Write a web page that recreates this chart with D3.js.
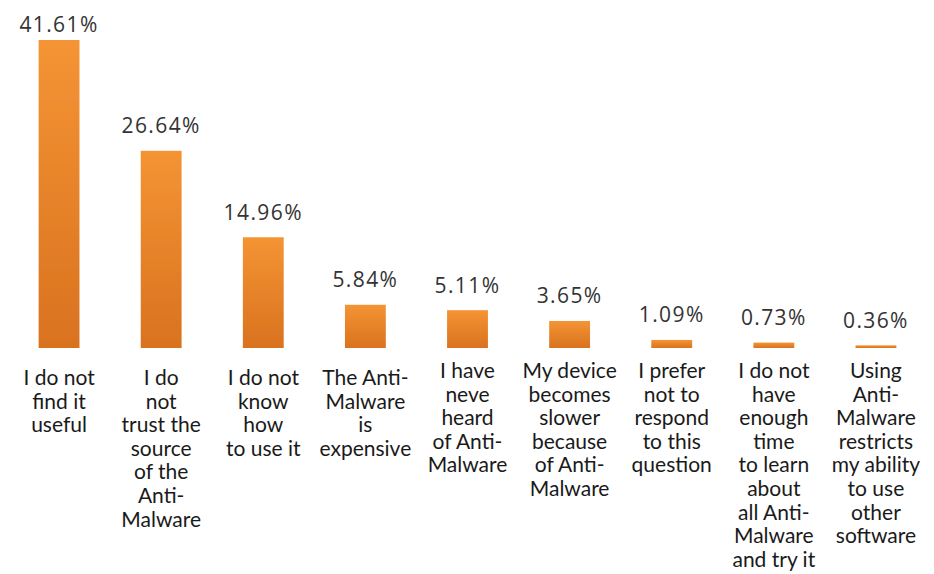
<!DOCTYPE html>
<html>
<head>
<meta charset="utf-8">
<script src="https://cdn.jsdelivr.net/npm/d3@7"></script>
<style>
  html, body { margin: 0; padding: 0; background: #ffffff; }
  svg { display: block; }
</style>
</head>
<body>
<svg id="chart" width="934" height="574"></svg>
<script>
// Reasons given for not using Anti-Malware (share of respondents, %)
const categories = [
  "I do not find it useful",
  "I do not trust the source of the Anti-Malware",
  "I do not know how to use it",
  "The Anti-Malware is expensive",
  "I have neve heard of Anti-Malware",
  "My device becomes slower because of Anti-Malware",
  "I prefer not to respond to this question",
  "I do not have enough time to learn about all Anti-Malware and try it",
  "Using Anti-Malware restricts my ability to use other software"
];
const values = [41.61, 26.64, 14.96, 5.84, 5.11, 3.65, 1.09, 0.73, 0.36];
const valueLabels = ["41.61%", "26.64%", "14.96%", "5.84%", "5.11%", "3.65%", "1.09%", "0.73%", "0.36%"];
// Wrapped label lines under each bar
const labelLines = [
  ["I do not", "find it", "useful"],
  ["I do", "not", "trust the", "source", "of the", "Anti-", "Malware"],
  ["I do not", "know", "how", "to use it"],
  ["The Anti-", "Malware", "is", "expensive"],
  ["I have", "neve", "heard", "of Anti-", "Malware"],
  ["My device", "becomes", "slower", "because", "of Anti-", "Malware"],
  ["I prefer", "not to", "respond", "to this", "question"],
  ["I do not", "have", "enough", "time", "to learn", "about", "all Anti-", "Malware", "and try it"],
  ["Using", "Anti-", "Malware", "restricts", "my ability", "to use", "other", "software"]
];

const svg = d3.select("#chart");
const baseY = 348;

const x = d3.scaleBand()
  .domain(categories)
  .range([8, 927])
  .paddingInner(0.6)
  .paddingOuter(0.3);

const y = d3.scaleLinear()
  .domain([0, 41.61])
  .range([baseY, 40]);

// Vertical gradient for the bars
const defs = svg.append("defs");
const grad = defs.append("linearGradient")
  .attr("id", "barFill")
  .attr("x1", 0).attr("y1", 0).attr("x2", 0).attr("y2", 1);
grad.append("stop").attr("offset", "0%").attr("stop-color", "#f49434");
grad.append("stop").attr("offset", "100%").attr("stop-color", "#d9721f");

const filt = defs.append("filter").attr("id", "soft")
  .attr("x", "-10%").attr("y", "-10%").attr("width", "120%").attr("height", "120%");
filt.append("feGaussianBlur").attr("stdDeviation", 0.6);

// Bars
svg.append("g")
  .selectAll("rect")
  .data(values)
  .join("rect")
  .attr("x", (d, i) => x(categories[i]))
  .attr("width", x.bandwidth())
  .attr("y", d => y(d))
  .attr("height", d => baseY - y(d))
  .attr("fill", "url(#barFill)")
  .attr("filter", "url(#soft)");

// Category axis line
const axis = d3.axisBottom(x).tickSize(0).tickFormat("");
const axisG = svg.append("g")
  .attr("transform", `translate(0,${baseY})`)
  .call(axis);
axisG.select(".domain")
  .attr("stroke", "#9a9a9a")
  .attr("stroke-width", 2)
  .attr("filter", "url(#soft)");

// Value labels above bars (kept inside the top edge)
svg.append("g")
  .selectAll("text")
  .data(values)
  .join("text")
  .attr("x", (d, i) => x(categories[i]) + x.bandwidth() / 2)
  .attr("y", d => Math.max(32, y(d) - 17.5))
  .attr("text-anchor", "middle")
  .attr("font-family", "'Open Sans', sans-serif")
  .attr("font-size", 21)
  .attr("letter-spacing", 1.4)
  .attr("fill", "#333333")
  .text((d, i) => valueLabels[i]);

// Wrapped category labels
const lab = svg.append("g")
  .selectAll("text")
  .data(categories)
  .join("text")
  .attr("x", d => x(d) + x.bandwidth() / 2)
  .attr("y", (d, i) => i < 4 ? 385 : 378)
  .attr("text-anchor", "middle")
  .attr("font-family", "Lato, sans-serif")
  .attr("font-size", 21)
  .attr("fill", "#1a1a1a");
lab.selectAll("tspan")
  .data((d, i) => labelLines[i])
  .join("tspan")
  .attr("x", function () { return d3.select(this.parentNode).attr("x"); })
  .attr("dy", (d, j) => j === 0 ? 0 : 23.6)
  .text(d => d);
</script>
</body>
</html>
